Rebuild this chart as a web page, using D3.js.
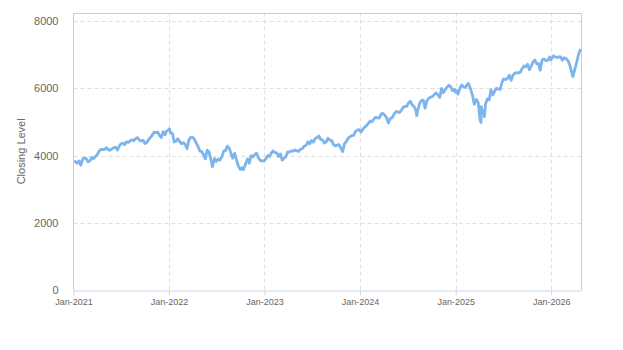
<!DOCTYPE html>
<html><head><meta charset="utf-8">
<script src="https://cdn.jsdelivr.net/npm/d3@7"></script>
<style>body{margin:0;background:#fff}svg{display:block;font-family:"Liberation Sans",Arial,sans-serif}</style>
</head><body><svg id="c" width="623" height="350"></svg>
<script>
const dates=[
"2021-01-04","2021-01-08","2021-01-15","2021-01-22","2021-01-29","2021-02-05","2021-02-12","2021-02-19","2021-02-26","2021-03-05","2021-03-12","2021-03-19","2021-03-26","2021-04-01","2021-04-09","2021-04-16","2021-04-23","2021-04-30","2021-05-07","2021-05-14","2021-05-21","2021-05-28","2021-06-04","2021-06-11","2021-06-18","2021-06-25","2021-07-02","2021-07-09","2021-07-16","2021-07-23","2021-07-30","2021-08-06","2021-08-13","2021-08-20","2021-08-27","2021-09-03","2021-09-10","2021-09-17","2021-09-24","2021-10-01","2021-10-08","2021-10-15","2021-10-22","2021-10-29","2021-11-05","2021-11-12","2021-11-19","2021-11-26","2021-12-03","2021-12-10","2021-12-17","2021-12-23","2021-12-31",
"2022-01-03","2022-01-07","2022-01-14","2022-01-21","2022-01-28","2022-02-04","2022-02-11","2022-02-18","2022-02-25","2022-03-04","2022-03-11","2022-03-18","2022-03-25","2022-04-01","2022-04-08","2022-04-14","2022-04-22","2022-04-29","2022-05-06","2022-05-13","2022-05-20","2022-05-27","2022-06-03","2022-06-10","2022-06-16","2022-06-24","2022-07-01","2022-07-08","2022-07-15","2022-07-22","2022-07-29","2022-08-05","2022-08-12","2022-08-19","2022-08-26","2022-09-02","2022-09-09","2022-09-16","2022-09-23","2022-09-30","2022-10-07","2022-10-12","2022-10-21","2022-10-28","2022-11-04","2022-11-11","2022-11-18","2022-11-25","2022-12-02","2022-12-09","2022-12-16","2022-12-23","2022-12-30",
"2023-01-06","2023-01-13","2023-01-20","2023-01-27","2023-02-03","2023-02-10","2023-02-17","2023-02-24","2023-03-03","2023-03-10","2023-03-17","2023-03-24","2023-03-31","2023-04-06","2023-04-14","2023-04-21","2023-04-28","2023-05-05","2023-05-12","2023-05-19","2023-05-26","2023-06-02","2023-06-09","2023-06-16","2023-06-23","2023-06-30","2023-07-07","2023-07-14","2023-07-21","2023-07-28","2023-08-04","2023-08-11","2023-08-18","2023-08-25","2023-09-01","2023-09-08","2023-09-15","2023-09-22","2023-09-29","2023-10-06","2023-10-13","2023-10-20","2023-10-27","2023-11-03","2023-11-10","2023-11-17","2023-11-24","2023-12-01","2023-12-08","2023-12-15","2023-12-22","2023-12-29",
"2024-01-05","2024-01-12","2024-01-19","2024-01-26","2024-02-02","2024-02-09","2024-02-16","2024-02-23","2024-03-01","2024-03-08","2024-03-15","2024-03-22","2024-03-28","2024-04-05","2024-04-12","2024-04-19","2024-04-26","2024-05-03","2024-05-10","2024-05-17","2024-05-24","2024-05-31","2024-06-07","2024-06-14","2024-06-21","2024-06-28","2024-07-05","2024-07-12","2024-07-19","2024-07-26","2024-08-02","2024-08-05","2024-08-09","2024-08-16","2024-08-23","2024-08-30","2024-09-06","2024-09-13","2024-09-20","2024-09-27","2024-10-04","2024-10-11","2024-10-18","2024-10-25","2024-11-01","2024-11-08","2024-11-15","2024-11-22","2024-11-29","2024-12-06","2024-12-13","2024-12-20","2024-12-27","2024-12-31",
"2025-01-03","2025-01-10","2025-01-17","2025-01-24","2025-01-31","2025-02-07","2025-02-14","2025-02-19","2025-02-28","2025-03-07","2025-03-13","2025-03-21","2025-03-28","2025-04-04","2025-04-08","2025-04-09","2025-04-11","2025-04-17","2025-04-21","2025-04-25","2025-05-02","2025-05-09","2025-05-16","2025-05-23","2025-05-30","2025-06-06","2025-06-13","2025-06-20","2025-06-27","2025-07-03","2025-07-11","2025-07-18","2025-07-25","2025-08-01","2025-08-08","2025-08-15","2025-08-22","2025-08-29","2025-09-05","2025-09-12","2025-09-19","2025-09-26","2025-10-03","2025-10-10","2025-10-17","2025-10-24","2025-10-31","2025-11-07","2025-11-14","2025-11-20","2025-11-28","2025-12-05","2025-12-12","2025-12-19","2025-12-26","2025-12-31",
"2026-01-09","2026-01-16","2026-01-23","2026-01-30","2026-02-06","2026-02-13","2026-02-20","2026-02-27","2026-03-06","2026-03-13","2026-03-20","2026-03-25","2026-04-02","2026-04-10","2026-04-17","2026-04-24"
];
const closes=[
3790,3824,3768,3841,3714,3886,3934,3906,3811,3842,3943,3913,3974,4020,4129,4185,4180,4181,4233,4174,4156,4204,4230,4247,4166,4281,4352,4370,4327,4411,4395,4437,4468,4442,4509,4535,4459,4433,4455,4357,4391,4471,4545,4605,4697,4682,4698,4595,4538,4712,4620,4726,4766,
4796,4677,4662,4398,4432,4500,4419,4349,4385,4329,4204,4463,4543,4546,4488,4393,4272,4132,4123,4023,3901,4158,4109,3901,3666,3912,3825,3899,3863,3962,4130,4145,4280,4228,4058,3924,4067,3873,3693,3586,3640,3577,3752,3901,3771,3993,3965,4026,4072,3934,3852,3845,3840,
3895,3999,3973,4071,4136,4090,4079,3970,4046,3862,3917,3971,4109,4105,4138,4133,4169,4136,4124,4192,4205,4282,4299,4410,4348,4450,4399,4505,4536,4582,4478,4464,4370,4406,4516,4457,4450,4320,4288,4309,4327,4224,4117,4358,4415,4514,4559,4595,4604,4719,4755,4770,
4697,4784,4840,4891,4959,5027,5006,5089,5137,5124,5117,5234,5254,5204,5123,4967,5100,5128,5223,5303,5305,5278,5347,5431,5465,5460,5567,5615,5505,5459,5346,5186,5344,5554,5634,5648,5408,5626,5703,5738,5751,5815,5864,5808,5729,5995,5870,5969,6032,6090,6051,5931,5971,5882,
5942,5827,5997,6101,6041,6026,6115,6144,5955,5770,5522,5668,5581,5074,4982,5457,5363,5283,5158,5525,5687,5660,5958,5803,5912,6000,5977,5967,6173,6279,6260,6297,6389,6238,6389,6450,6467,6460,6482,6584,6664,6644,6716,6553,6664,6792,6840,6729,6734,6538,6849,6870,6827,6834,6930,6845,
6966,6940,6915,6939,6932,6836,6910,6880,6830,6700,6500,6350,6580,6820,7050,7165
];
const yTicks=[0,2000,4000,6000,8000];
const xTickDates=["2021-01-01","2022-01-01","2023-01-01","2024-01-01","2025-01-01","2026-01-01"];
const xTickLabels=["Jan-2021","Jan-2022","Jan-2023","Jan-2024","Jan-2025","Jan-2026"];
const yTitle="Closing Level";

const parse=d3.utcParse("%Y-%m-%d");
const data=dates.map((d,i)=>({date:parse(d),v:closes[i]}));
const L=73.5,R=581.5,T=12.7,B=290;
const x=d3.scaleUtc().domain([parse("2021-01-01"),parse("2026-04-27")]).range([L,R]);
const y=d3.scaleLinear().domain([0,8250]).range([B,T]);
const svg=d3.select("#c");

const g=svg.append("g");
g.selectAll("line.h").data(yTicks.slice(1)).enter().append("line")
 .attr("x1",L).attr("x2",R).attr("y1",d=>Math.round(y(d))+0.5).attr("y2",d=>Math.round(y(d))+0.5)
 .attr("stroke","#e0e0e0").attr("stroke-dasharray","4,3");
g.selectAll("line.v").data(xTickDates.slice(1)).enter().append("line")
 .attr("x1",d=>Math.round(x(parse(d)))+0.5).attr("x2",d=>Math.round(x(parse(d)))+0.5).attr("y1",T).attr("y2",B)
 .attr("stroke","#e0e0e0").attr("stroke-dasharray","4,3");

svg.append("path").attr("d",`M${L},${B}V${Math.round(T)+0.5}H${R}V${B}`).attr("fill","none").attr("stroke","#cccccc");

const xa=d3.axisBottom(x).tickValues(xTickDates.map(parse)).tickFormat((d,i)=>xTickLabels[i]).tickSize(5).tickSizeOuter(0);
const xg=svg.append("g").attr("transform",`translate(0,${B+0.5})`).call(xa);
xg.select(".domain").attr("stroke","#ccd6eb");
xg.selectAll(".tick line").attr("stroke","#ccd6eb");
xg.selectAll("text").attr("fill","#666").attr("font-size","9px").attr("font-family","Liberation Sans, Arial, sans-serif").attr("dy","0.71em").attr("y",8);

const ya=d3.axisLeft(y).tickValues(yTicks).tickFormat(d3.format("d")).tickSize(0);
const yg=svg.append("g").attr("transform",`translate(${L},0)`).call(ya);
yg.select(".domain").remove();
yg.selectAll("text").attr("fill","#666").attr("font-size","11px").attr("font-family","Liberation Sans, Arial, sans-serif").attr("x",-15);

svg.append("text").attr("transform",`translate(25,${(T+B)/2}) rotate(-90)`).attr("text-anchor","middle")
 .attr("fill","#666").attr("font-size","11px").text(yTitle);

svg.append("path").datum(data).attr("fill","none").attr("stroke","#7cb5ec").attr("stroke-width",2.8)
 .attr("stroke-linejoin","round").attr("d",d3.line().x(d=>x(d.date)).y(d=>y(d.v)));
</script></body></html>
